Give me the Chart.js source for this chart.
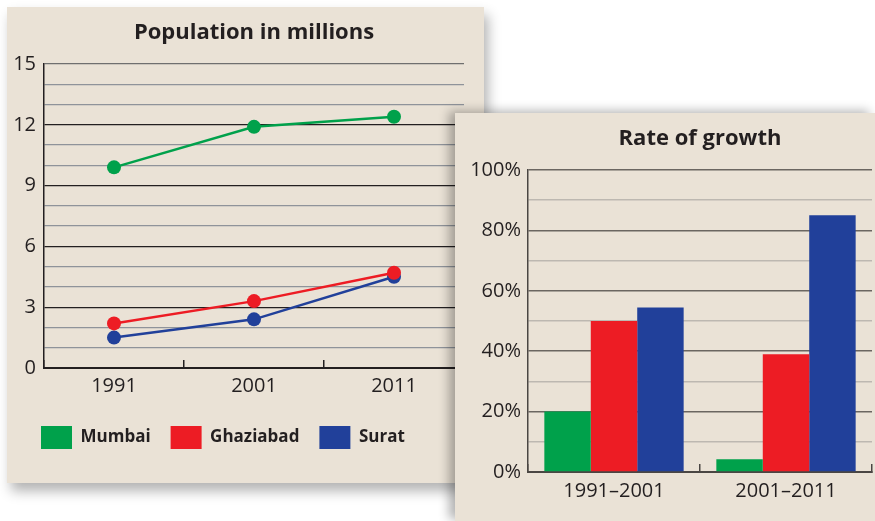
<!DOCTYPE html>
<html>
<head>
<meta charset="utf-8">
<script src="https://cdn.jsdelivr.net/npm/chart.js@4/dist/chart.umd.min.js"></script>
<style>
  body { margin: 0; background: #fff; width: 875px; height: 521px; overflow: hidden; position: relative; }
  .panel { position: absolute; background: #eae2d6; }
  #leftPanel { left: 7px; top: 7px; width: 477px; height: 476px; box-shadow: 4px 8px 12px rgba(0,0,0,0.3); }
  #rightPanel { left: 455px; top: 113px; width: 420px; height: 408px; box-shadow: -6px -2px 10px rgba(0,0,0,0.3); z-index: 2; }
  canvas { display: block; }
</style>
</head>
<body>
<div class="panel" id="leftPanel"><canvas id="popChart" width="477" height="476"></canvas></div>
<div class="panel" id="rightPanel"><canvas id="growthChart" width="420" height="408"></canvas></div>
<script>
// population, millions
const years = ['1991', '2001', '2011'];
const mumbaiPop = [9.9, 11.9, 12.4];
const ghaziabadPop = [2.2, 3.3, 4.7];
const suratPop = [1.5, 2.4, 4.5];

// growth over the decade, %
const periods = ['1991–2001', '2001–2011'];
const mumbaiGrowth = [20, 4.2];
const ghaziabadGrowth = [50, 39];
const suratGrowth = [54.5, 85];

const GREEN = '#00a14b';
const RED = '#ed1c24';
const BLUE = '#21409a';
const INK = '#231f20';

Chart.defaults.font.family = '"Open Sans", sans-serif';
Chart.defaults.color = INK;

const titleOpts = function(text) {
    return {
        display: true,
        fullSize: false,
        text: text,
        color: INK,
        font: { size: 22, weight: 'bold' },
        padding: { top: 13, bottom: 17.6 }
    };
};

// nudge the legend right so it lines up under the plot, not the axis labels
const shiftLegend = {
    id: 'shiftLegend',
    afterLayout: function(chart) {
        if (chart.legend) {
            chart.legend.left += 12;
            chart.legend.right += 12;
        }
    }
};

function lineSet(label, data, color) {
    return {
        label: label,
        data: data,
        borderColor: color,
        backgroundColor: color,
        borderWidth: 2.5,
        pointRadius: 7,
        pointBorderWidth: 0,
        pointBackgroundColor: color,
        tension: 0
    };
}

new Chart(document.getElementById('popChart'), {
    type: 'line',
    data: {
        labels: years,
        datasets: [
            lineSet('Mumbai', mumbaiPop, GREEN),
            lineSet('Ghaziabad', ghaziabadPop, RED),
            lineSet('Surat', suratPop, BLUE)
        ]
    },
    plugins: [shiftLegend],
    options: {
        responsive: false,
        animation: false,
        events: [],
        layout: { padding: { left: 2, right: 20, top: 0, bottom: 24 } },
        plugins: {
            title: titleOpts('Population in millions'),
            tooltip: { enabled: false },
            legend: {
                position: 'bottom',
                align: 'start',
                labels: {
                    boxWidth: 31,
                    boxHeight: 23,
                    padding: 20,
                    color: INK,
                    font: { size: 17, weight: 'bold' },
                    generateLabels: function(chart) {
                        return Chart.defaults.plugins.legend.labels.generateLabels(chart)
                            .map(function(l) { l.lineWidth = 0; return l; });
                    }
                }
            }
        },
        scales: {
            x: {
                offset: true,
                afterFit: function(scale) { scale.height = 38; },
                grid: { offset: true, drawOnChartArea: false, drawTicks: true, tickLength: -8, color: INK, lineWidth: 1.5 },
                border: { color: INK, width: 2 },
                ticks: { padding: 14, color: INK, font: { size: 20 } }
            },
            y: {
                min: 0,
                max: 15,
                afterFit: function(scale) { scale.width = 35; },
                grid: {
                    drawTicks: false,
                    lineWidth: 1.3,
                    color: function(c) {
                        const v = c.tick.value;
                        if (v === 15) return '#6f6f6f';
                        return v % 3 === 0 ? INK : '#8f939a';
                    }
                },
                border: { color: INK, width: 1.5 },
                ticks: {
                    stepSize: 1,
                    maxTicksLimit: 20,
                    autoSkip: false,
                    padding: 8,
                    color: INK,
                    font: { size: 20 },
                    callback: function(v) { return v % 3 === 0 ? v : ''; }
                }
            }
        }
    }
});

new Chart(document.getElementById('growthChart'), {
    type: 'bar',
    data: {
        labels: periods,
        datasets: [
            { label: 'Mumbai', data: mumbaiGrowth, backgroundColor: GREEN },
            { label: 'Ghaziabad', data: ghaziabadGrowth, backgroundColor: RED },
            { label: 'Surat', data: suratGrowth, backgroundColor: BLUE }
        ]
    },
    options: {
        responsive: false,
        animation: false,
        events: [],
        categoryPercentage: 0.81,
        barPercentage: 1,
        layout: { padding: { left: 0, right: 3, top: 0, bottom: 0 } },
        plugins: {
            title: titleOpts('Rate of growth'),
            tooltip: { enabled: false },
            legend: { display: false }
        },
        scales: {
            x: {
                afterFit: function(scale) { scale.height = 49; },
                grid: { offset: true, drawOnChartArea: false, drawTicks: true, tickLength: -8, color: '#4a4643', lineWidth: 1.5 },
                border: { color: '#4a4643', width: 2 },
                ticks: { padding: 15, color: INK, font: { size: 20 } }
            },
            y: {
                min: 0,
                max: 100,
                afterFit: function(scale) { scale.width = 73; },
                grid: {
                    drawTicks: false,
                    lineWidth: 1.5,
                    color: function(c) {
                        return c.tick.value % 20 === 0 ? '#6b6661' : '#bdb8b1';
                    }
                },
                border: { color: '#4a4643', width: 1.5 },
                ticks: {
                    stepSize: 10,
                    padding: 7,
                    color: INK,
                    font: { size: 20 },
                    callback: function(v) { return v % 20 === 0 ? v + '%' : ''; }
                }
            }
        }
    }
});
</script>
</body>
</html>
